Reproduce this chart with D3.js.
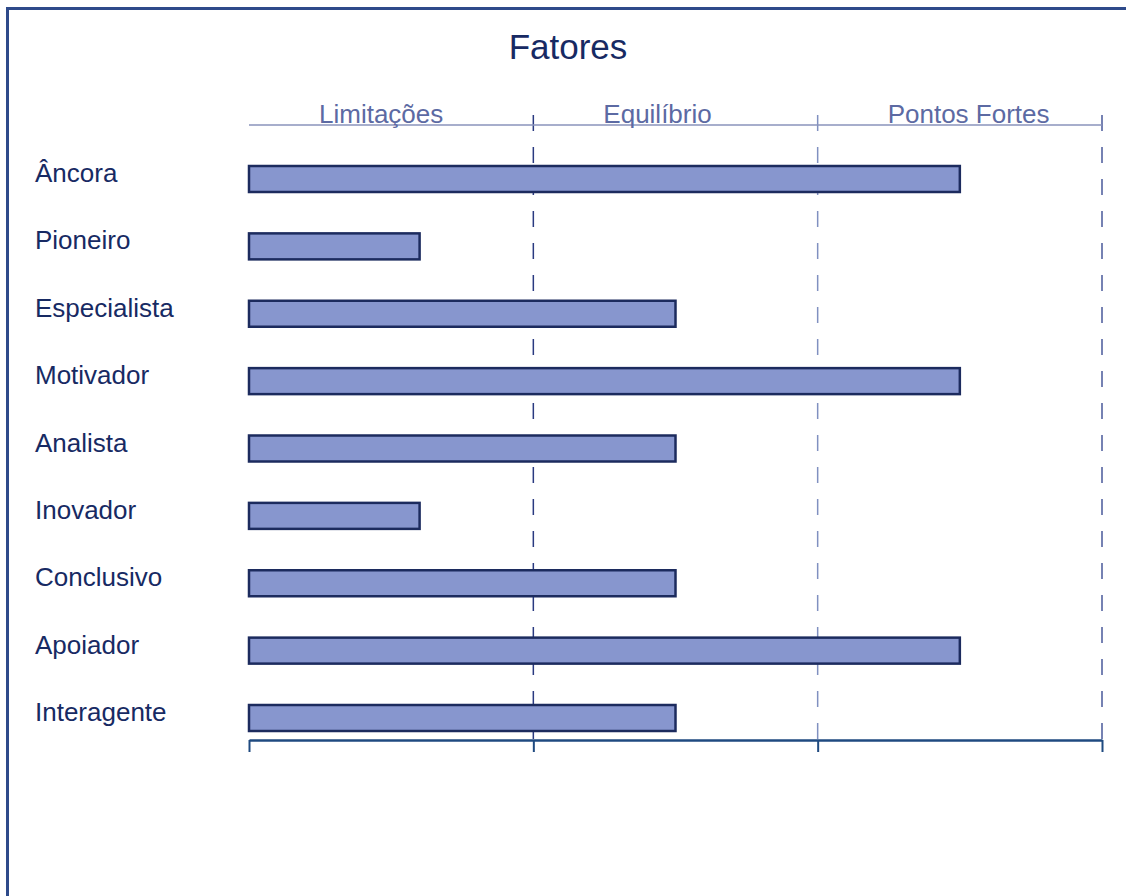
<!DOCTYPE html>
<html>
<head>
<meta charset="utf-8">
<script src="https://cdn.jsdelivr.net/npm/d3@7"></script>
<style>
  body { margin: 0; background: #fff; }
  svg { display: block; font-family: "Liberation Sans", Arial, sans-serif; }
</style>
</head>
<body>
<div id="chart"></div>
<script>
// Data
const fatores = ["Âncora", "Pioneiro", "Especialista", "Motivador", "Analista", "Inovador", "Conclusivo", "Apoiador", "Interagente"];
const valores = [2.5, 0.6, 1.5, 2.5, 1.5, 0.6, 1.5, 2.5, 1.5];
const colunas = ["Limitações", "Equilíbrio", "Pontos Fortes"];
const ticks = [0, 1, 2, 3];

const W = 1126, H = 896;

const svg = d3.select("#chart")
    .append("svg")
    .attr("width", W)
    .attr("height", H);

// frame (runs off right/bottom)
svg.append("rect")
    .attr("x", 7.5)
    .attr("y", 8.5)
    .attr("width", 1300)
    .attr("height", 1100)
    .attr("fill", "none")
    .attr("stroke", "#2e4a8a")
    .attr("stroke-width", 3);

// Scales
const x = d3.scaleLinear()
    .domain([0, 3])
    .range([249, 1102]);

const y = d3.scalePoint()
    .domain(fatores)
    .range([179, 718]);

const barH = 26;

// Title
svg.append("text")
    .attr("x", 568)
    .attr("y", 59)
    .attr("text-anchor", "middle")
    .style("font-size", "35px")
    .attr("fill", "#172a63")
    .text("Fatores");

// Dashed gridlines
svg.append("g")
    .selectAll("line")
    .data(ticks.slice(1))
    .join("line")
    .attr("x1", d => x(d))
    .attr("x2", d => x(d))
    .attr("y1", 115)
    .attr("y2", 740)
    .attr("stroke", (d, i) => ["#2a3a80", "#8090c0", "#4a5a9a"][i])
    .attr("stroke-width", 1.5)
    .attr("stroke-dasharray", "16,16");

// Top line
svg.append("line")
    .attr("x1", x(0))
    .attr("x2", x(3))
    .attr("y1", 125)
    .attr("y2", 125)
    .attr("stroke", "#8a93bb")
    .attr("stroke-width", 1.5);

// Column headers
svg.append("g")
    .selectAll("text")
    .data(colunas)
    .join("text")
    .attr("x", (d, i) => x(i) + 70)
    .attr("y", 123)
    .style("font-size", "26px")
    .attr("fill", "#5c6aa3")
    .text(d => d);

// Bars
svg.append("g")
    .selectAll("rect")
    .data(valores)
    .join("rect")
    .attr("x", x(0))
    .attr("y", (d, i) => y(fatores[i]) - barH / 2)
    .attr("width", d => x(d) - x(0))
    .attr("height", barH)
    .attr("fill", "#8796ce")
    .attr("stroke", "#1c2b5e")
    .attr("stroke-width", 2.5);

// Category labels
svg.append("g")
    .selectAll("text")
    .data(fatores)
    .join("text")
    .attr("x", 35)
    .attr("y", d => y(d) + 3)
    .style("font-size", "26px")
    .attr("fill", "#172a63")
    .text(d => d);

// Bottom axis
const axis = svg.append("g")
    .attr("transform", "translate(0,740)")
    .call(d3.axisBottom(x).tickValues(ticks).tickSize(12).tickFormat("").tickSizeOuter(0));

axis.select(".domain")
    .attr("stroke", "#1f4a80")
    .attr("stroke-width", 2.5);
axis.selectAll(".tick line")
    .attr("stroke", "#1f4a80")
    .attr("stroke-width", 2);
</script>
</body>
</html>
